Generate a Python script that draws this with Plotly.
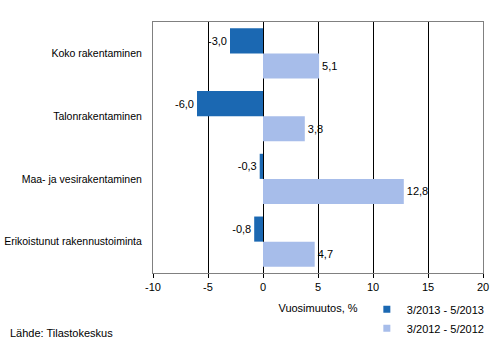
import plotly.graph_objects as go

categories = ["Koko rakentaminen", "Talonrakentaminen", "Maa- ja vesirakentaminen", "Erikoistunut rakennustoiminta"]
series_2013 = [-3.0, -6.0, -0.3, -0.8]
series_2012 = [5.1, 3.8, 12.8, 4.7]
series_names = ["3/2013 - 5/2013", "3/2012 - 5/2012"]
x_ticks = [-10, -5, 0, 5, 10, 15, 20]
colors = ["#1B68B2", "#A7BDEA"]

def fmt(v):
    return f"{v:.1f}".replace(".", ",")

font = dict(family="Liberation Sans, Arial, sans-serif", size=11, color="#000000")

fig = go.Figure()
for vals, name, col in [(series_2013, series_names[0], colors[0]), (series_2012, series_names[1], colors[1])]:
    fig.add_trace(go.Bar(y=categories, x=vals, orientation="h", name=name,
                         marker=dict(color=col, line=dict(width=0)),
                         text=[fmt(v) for v in vals], textposition="outside",
                         textfont=font, cliponaxis=False, showlegend=False,
                         hoverinfo="skip"))
for name, col in zip(series_names, colors):
    fig.add_trace(go.Scatter(x=[None], y=[None], mode="markers", name=name,
                             marker=dict(symbol="square", size=7, color=col),
                             showlegend=True, hoverinfo="skip"))

fig.update_layout(
    width=502, height=356,
    margin=dict(l=153, r=15, t=22, b=83),
    barmode="group", bargap=0.2, bargroupgap=0,
    plot_bgcolor="white", paper_bgcolor="white",
    font=font,
    showlegend=True,
    hovermode=False,
    legend=dict(x=0.648, y=-0.087, xanchor="left", yanchor="top", orientation="v",
                font=dict(size=11), itemwidth=30, tracegroupgap=0,
                bgcolor="rgba(0,0,0,0)", traceorder="normal"),
    xaxis=dict(range=[-10, 20], tickvals=x_ticks, ticktext=[str(t) for t in x_ticks],
               showgrid=True, gridcolor="#000000", gridwidth=1,
               zeroline=True, zerolinecolor="#000000", zerolinewidth=1,
               showline=True, linecolor="#808080", linewidth=1, mirror=True,
               ticks="outside", ticklen=4, tickcolor="#000000",
               title=dict(text="Vuosimuutos, %", font=dict(size=11), standoff=12),
               automargin=False, fixedrange=True),
    yaxis=dict(autorange="reversed", showgrid=False, showline=True, linecolor="#808080",
               linewidth=1, mirror=True, ticks="", ticklabelstandoff=8,
               tickfont=dict(size=10.5),
               automargin=False, fixedrange=True),
    annotations=[dict(text="Lähde: Tilastokeskus", xref="paper", yref="paper",
                      x=-147/334, y=-60/251, xanchor="left", yanchor="middle",
                      showarrow=False, font=dict(size=11))],
)

fig.write_html("out.html", config={"displayModeBar": False, "staticPlot": False},
               post_script="document.body.style.margin='0';document.body.style.padding='0';")
